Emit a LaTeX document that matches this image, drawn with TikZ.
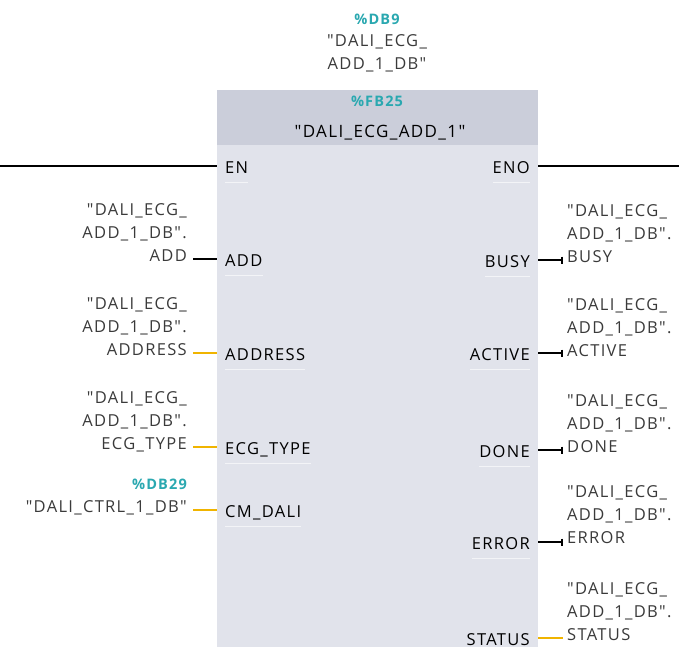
\documentclass[tikz,border=0pt]{standalone}
\usepackage{fontspec}
\setmainfont{Open Sans}[LetterSpace=8,Ligatures=TeXOff]
\usepackage{tikz}
\usetikzlibrary{arrows.meta,positioning}
\definecolor{bodygray}{HTML}{E1E3EB}
\definecolor{headgray}{HTML}{CBCEDA}
\definecolor{dbteal}{HTML}{2AA8B0}
\definecolor{wireyellow}{HTML}{F0B400}
\definecolor{labelgray}{HTML}{3A3A3A}

\begin{document}
\begin{tikzpicture}[x=1pt,y=-1pt,>=Latex,
  every node/.style={font=\fontsize{16.5}{23}\selectfont,inner sep=0pt},
  pinname/.style={text=black,text height=14pt,text depth=0pt,inner xsep=8pt},
  varlabel/.style={text=labelgray,align=right,anchor=base east},
  outlabel/.style={text=labelgray,align=left,anchor=base west},
  dbname/.style={text=dbteal,font=\fontsize{14.5}{23}\selectfont\bfseries},
  boolwire/.style={line width=2pt,black},
  wordwire/.style={line width=2pt,wireyellow},
  boolout/.style={boolwire,shorten >=4pt,-{Bar[width=7pt,line width=1.6pt]}},
  pinline/.style={line width=1pt,white!60!bodygray}]
\useasboundingbox (0,0) rectangle (679,647);
% block body and header
\fill[bodygray] (217,90) rectangle (538,647);
\fill[headgray] (217,90) rectangle (538,145);
\node[dbname,anchor=base] (idb) at (377,25) {\%DB9};
\node[text=labelgray,align=center,anchor=base] (idbname) at (377,70) {"DALI\_ECG\_\\ADD\_1\_DB"};
\node[dbname,anchor=base] (fbnum) at (377,107) {\%FB25};
\node[anchor=base,font=\fontsize{17}{23}\selectfont] (fbname) at (380,138) {"DALI\_ECG\_ADD\_1"};
% pins
\node[pinname,anchor=west] (en) at (217,166) {EN};
\node[pinname,anchor=east] (eno) at (538,166) {ENO};
\node[pinname,anchor=west] (add) at (217,259) {ADD};
\node[pinname,anchor=west] (address) at (217,353) {ADDRESS};
\node[pinname,anchor=west] (ecgtype) at (217,447) {ECG\_TYPE};
\node[pinname,anchor=west] (cmdali) at (217,510) {CM\_DALI};
\node[pinname,anchor=east] (busy) at (538,260) {BUSY};
\node[pinname,anchor=east] (active) at (538,353) {ACTIVE};
\node[pinname,anchor=east] (done) at (538,450) {DONE};
\node[pinname,anchor=east] (error) at (538,542) {ERROR};
\node[pinname,anchor=east] (status) at (538,638) {STATUS};
\foreach \p in {en,add,address,ecgtype,cmdali,eno,busy,active,done,error}
  \draw[pinline] ([xshift=8pt,yshift=-9pt]\p.base west) -- ([xshift=-8pt,yshift=-9pt]\p.base east);
% actual parameters
\node[varlabel] (addvar) at (187,261) {"DALI\_ECG\_\\ADD\_1\_DB".\\ADD};
\node[varlabel] (addressvar) at (187,355) {"DALI\_ECG\_\\ADD\_1\_DB".\\ADDRESS};
\node[varlabel] (ecgtypevar) at (187,449) {"DALI\_ECG\_\\ADD\_1\_DB".\\ECG\_TYPE};
\node[varlabel] (cmdalivar) at (187,512) {{\color{dbteal}\bfseries\fontsize{14.5}{23}\selectfont\%DB29}\\"DALI\_CTRL\_1\_DB"};
\node[outlabel] (busyvar) at (567,262) {"DALI\_ECG\_\\ADD\_1\_DB".\\BUSY};
\node[outlabel] (activevar) at (567,356) {"DALI\_ECG\_\\ADD\_1\_DB".\\ACTIVE};
\node[outlabel] (donevar) at (567,452) {"DALI\_ECG\_\\ADD\_1\_DB".\\DONE};
\node[outlabel] (errorvar) at (567,543) {"DALI\_ECG\_\\ADD\_1\_DB".\\ERROR};
\node[outlabel] (statusvar) at (567,640) {"DALI\_ECG\_\\ADD\_1\_DB".\\STATUS};
% wires
\coordinate (enin) at (0,166);
\coordinate (enoout) at (679,166);
\draw[boolwire] (enin) -- (en.west);
\draw[boolwire] (eno.east) -- (enoout);
\draw[boolwire,shorten <=6pt] (addvar.east |- add.west) -- (add.west);
\draw[wordwire,shorten <=6pt] (addressvar.east |- address.west) -- (address.west);
\draw[wordwire,shorten <=6pt] (ecgtypevar.east |- ecgtype.west) -- (ecgtype.west);
\draw[wordwire,shorten <=6pt] (cmdalivar.east |- cmdali.west) -- (cmdali.west);
\draw[boolout] (busy.east) -- (busy.east -| busyvar.west);
\draw[boolout] (active.east) -- (active.east -| activevar.west);
\draw[boolout] (done.east) -- (done.east -| donevar.west);
\draw[boolout] (error.east) -- (error.east -| errorvar.west);
\draw[wordwire,shorten >=4pt] (status.east) -- (status.east -| statusvar.west);
\end{tikzpicture}
\end{document}
